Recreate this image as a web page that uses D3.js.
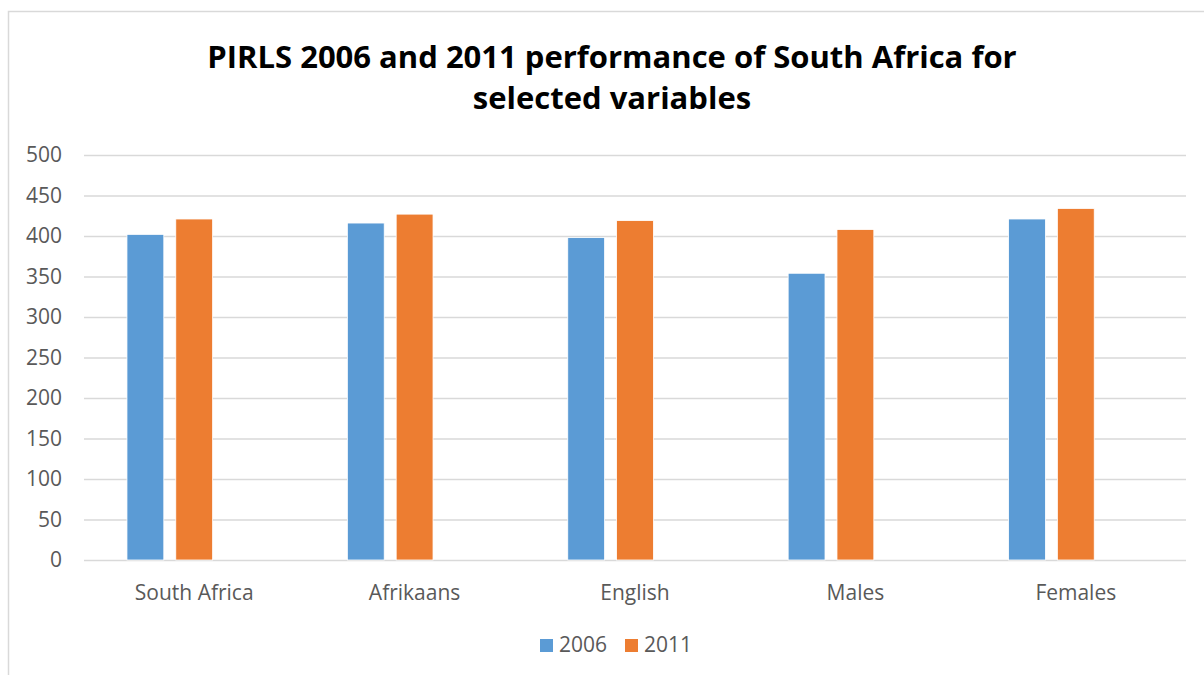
<!DOCTYPE html>
<html lang="en">
<head>
    <meta charset="UTF-8">
    <title>PIRLS chart</title>
    <style>
        body { margin: 0; background: #fff; }
        text { font-family: "Open Sans", sans-serif; }
    </style>
</head>
<body>
    <div class="canvas"></div>
    <script src="https://d3js.org/d3.v7.min.js"></script>
    <script>
        const categories = ['South Africa', 'Afrikaans', 'English', 'Males', 'Females'];
        const series = ['2006', '2011'];
        const values2006 = [402, 416, 398, 354, 421];
        const values2011 = [421, 427, 419, 408, 434];
        const yTicks = [0, 50, 100, 150, 200, 250, 300, 350, 400, 450, 500];
        // excel kept a third (empty) slot in each group, so the bars sit left of the label
        const slots = ['2006', '2011', 'blank'];

        const colors = { '2006': '#5b9bd5', '2011': '#ed7d31' };
        const dims = { width: 1204, height: 675 };
        const plot = { left: 84, right: 1186, top: 155, bottom: 560 };

        const svg = d3.select('.canvas')
            .append('svg')
            .attr('width', dims.width)
            .attr('height', dims.height);

        // chart border
        svg.append('rect')
            .attr('x', 8.5).attr('y', 11.5)
            .attr('width', 1220).attr('height', 700)
            .attr('fill', 'none')
            .attr('stroke', '#d9d9d9')
            .attr('stroke-width', 1.5);

        // title
        const title = svg.append('text')
            .attr('text-anchor', 'middle')
            .attr('font-family', 'Lato, sans-serif')
            .attr('font-weight', 'bold')
            .attr('font-size', 31)
            .attr('fill', '#000');
        title.append('tspan').attr('x', 612).attr('y', 68)
            .text('PIRLS 2006 and 2011 performance of South Africa for');
        title.append('tspan').attr('x', 612).attr('y', 109)
            .text('selected variables');

        const x = d3.scaleBand()
            .domain(categories)
            .range([plot.left, plot.right]);

        const xInner = d3.scaleBand()
            .domain(slots)
            .range([0, x.bandwidth()])
            .paddingInner(0.245)
            .paddingOuter(0.88);

        const y = d3.scaleLinear()
            .domain([0, 500])
            .range([plot.bottom, plot.top]);

        // gridlines + y labels
        const yAxis = d3.axisLeft(y)
            .tickValues(yTicks)
            .tickSize(-(plot.right - plot.left))
            .tickPadding(22);

        const yG = svg.append('g')
            .attr('transform', `translate(${plot.left},0)`)
            .call(yAxis);
        yG.select('.domain').remove();
        yG.selectAll('line').attr('stroke', '#d9d9d9').attr('stroke-width', 1.5);
        yG.selectAll('text')
            .attr('fill', '#595959')
            .attr('font-size', 21)
            .attr('font-family', '"Open Sans", sans-serif');

        const data = [];
        categories.forEach((c, i) => {
            data.push({ cat: c, s: '2006', v: values2006[i] });
            data.push({ cat: c, s: '2011', v: values2011[i] });
        });

        svg.append('g').selectAll('rect')
            .data(data)
            .enter()
            .append('rect')
            .attr('x', d => x(d.cat) + xInner(d.s))
            .attr('width', xInner.bandwidth())
            .attr('y', d => y(d.v))
            .attr('height', d => y(0) - y(d.v))
            .attr('fill', d => colors[d.s])
            .attr('stroke', '#fff')
            .attr('stroke-width', 0.8);

        // x labels
        const xAxis = d3.axisBottom(x).tickSize(0).tickPadding(25);
        const xG = svg.append('g')
            .attr('transform', `translate(0,${plot.bottom})`)
            .call(xAxis);
        xG.select('.domain').remove();
        xG.selectAll('text')
            .attr('fill', '#595959')
            .attr('font-size', 21)
            .attr('font-family', '"Open Sans", sans-serif');

        // legend
        const legendPos = [540, 625];
        const legend = svg.append('g');
        series.forEach((s, i) => {
            legend.append('rect')
                .attr('x', legendPos[i]).attr('y', 639)
                .attr('width', 13).attr('height', 13)
                .attr('fill', colors[s]);
            legend.append('text')
                .attr('x', legendPos[i] + 19).attr('y', 652)
                .attr('fill', '#595959')
                .attr('font-size', 21)
                .text(s);
        });
    </script>
</body>
</html>
